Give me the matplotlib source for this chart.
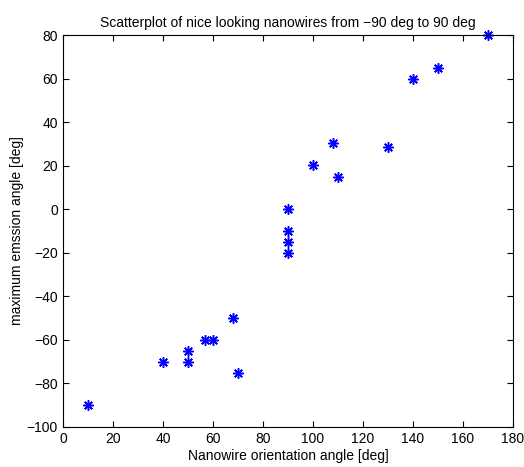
import matplotlib.pyplot as plt
import numpy as np

plt.rcParams['font.family'] = ['Liberation Sans', 'DejaVu Sans']

# orientation angle [deg] vs. maximum emission angle [deg]
orientation = [10, 40, 50, 50, 57, 60, 68, 70, 90, 90, 90, 90,
               100, 108, 110, 130, 140, 150, 170]
emission = [-90, -70, -65, -70, -60, -60, -50, -75, 0, -10, -15, -20,
            20.5, 30.5, 15, 28.5, 60, 65, 80]

xticks = np.arange(0, 181, 20)
yticks = np.arange(-100, 81, 20)

fig = plt.figure(figsize=(5.24, 4.67), dpi=100)
ax = fig.add_axes([0.12, 0.0857, 0.859, 0.8393])

ax.plot(orientation, emission, linestyle='none', marker=(8, 2, 0),
        markersize=7.5, markeredgewidth=1.1, color='#0000ff', clip_on=False)

ax.set_xlim(0, 180)
ax.set_ylim(-100, 80)
ax.set_xticks(xticks)
ax.set_yticks(yticks)
ax.tick_params(direction='in', top=True, right=True, labelsize=10, length=4)
for spine in ax.spines.values():
    spine.set_linewidth(0.8)

ax.set_xlabel('Nanowire orientation angle [deg]', fontsize=10, labelpad=2)
ax.set_ylabel('maximum emssion angle [deg]', fontsize=10, labelpad=2)
ax.set_title('Scatterplot of nice looking nanowires from \u221290 deg to 90 deg',
             fontsize=10, pad=6)

plt.savefig('out.png', dpi=100)
